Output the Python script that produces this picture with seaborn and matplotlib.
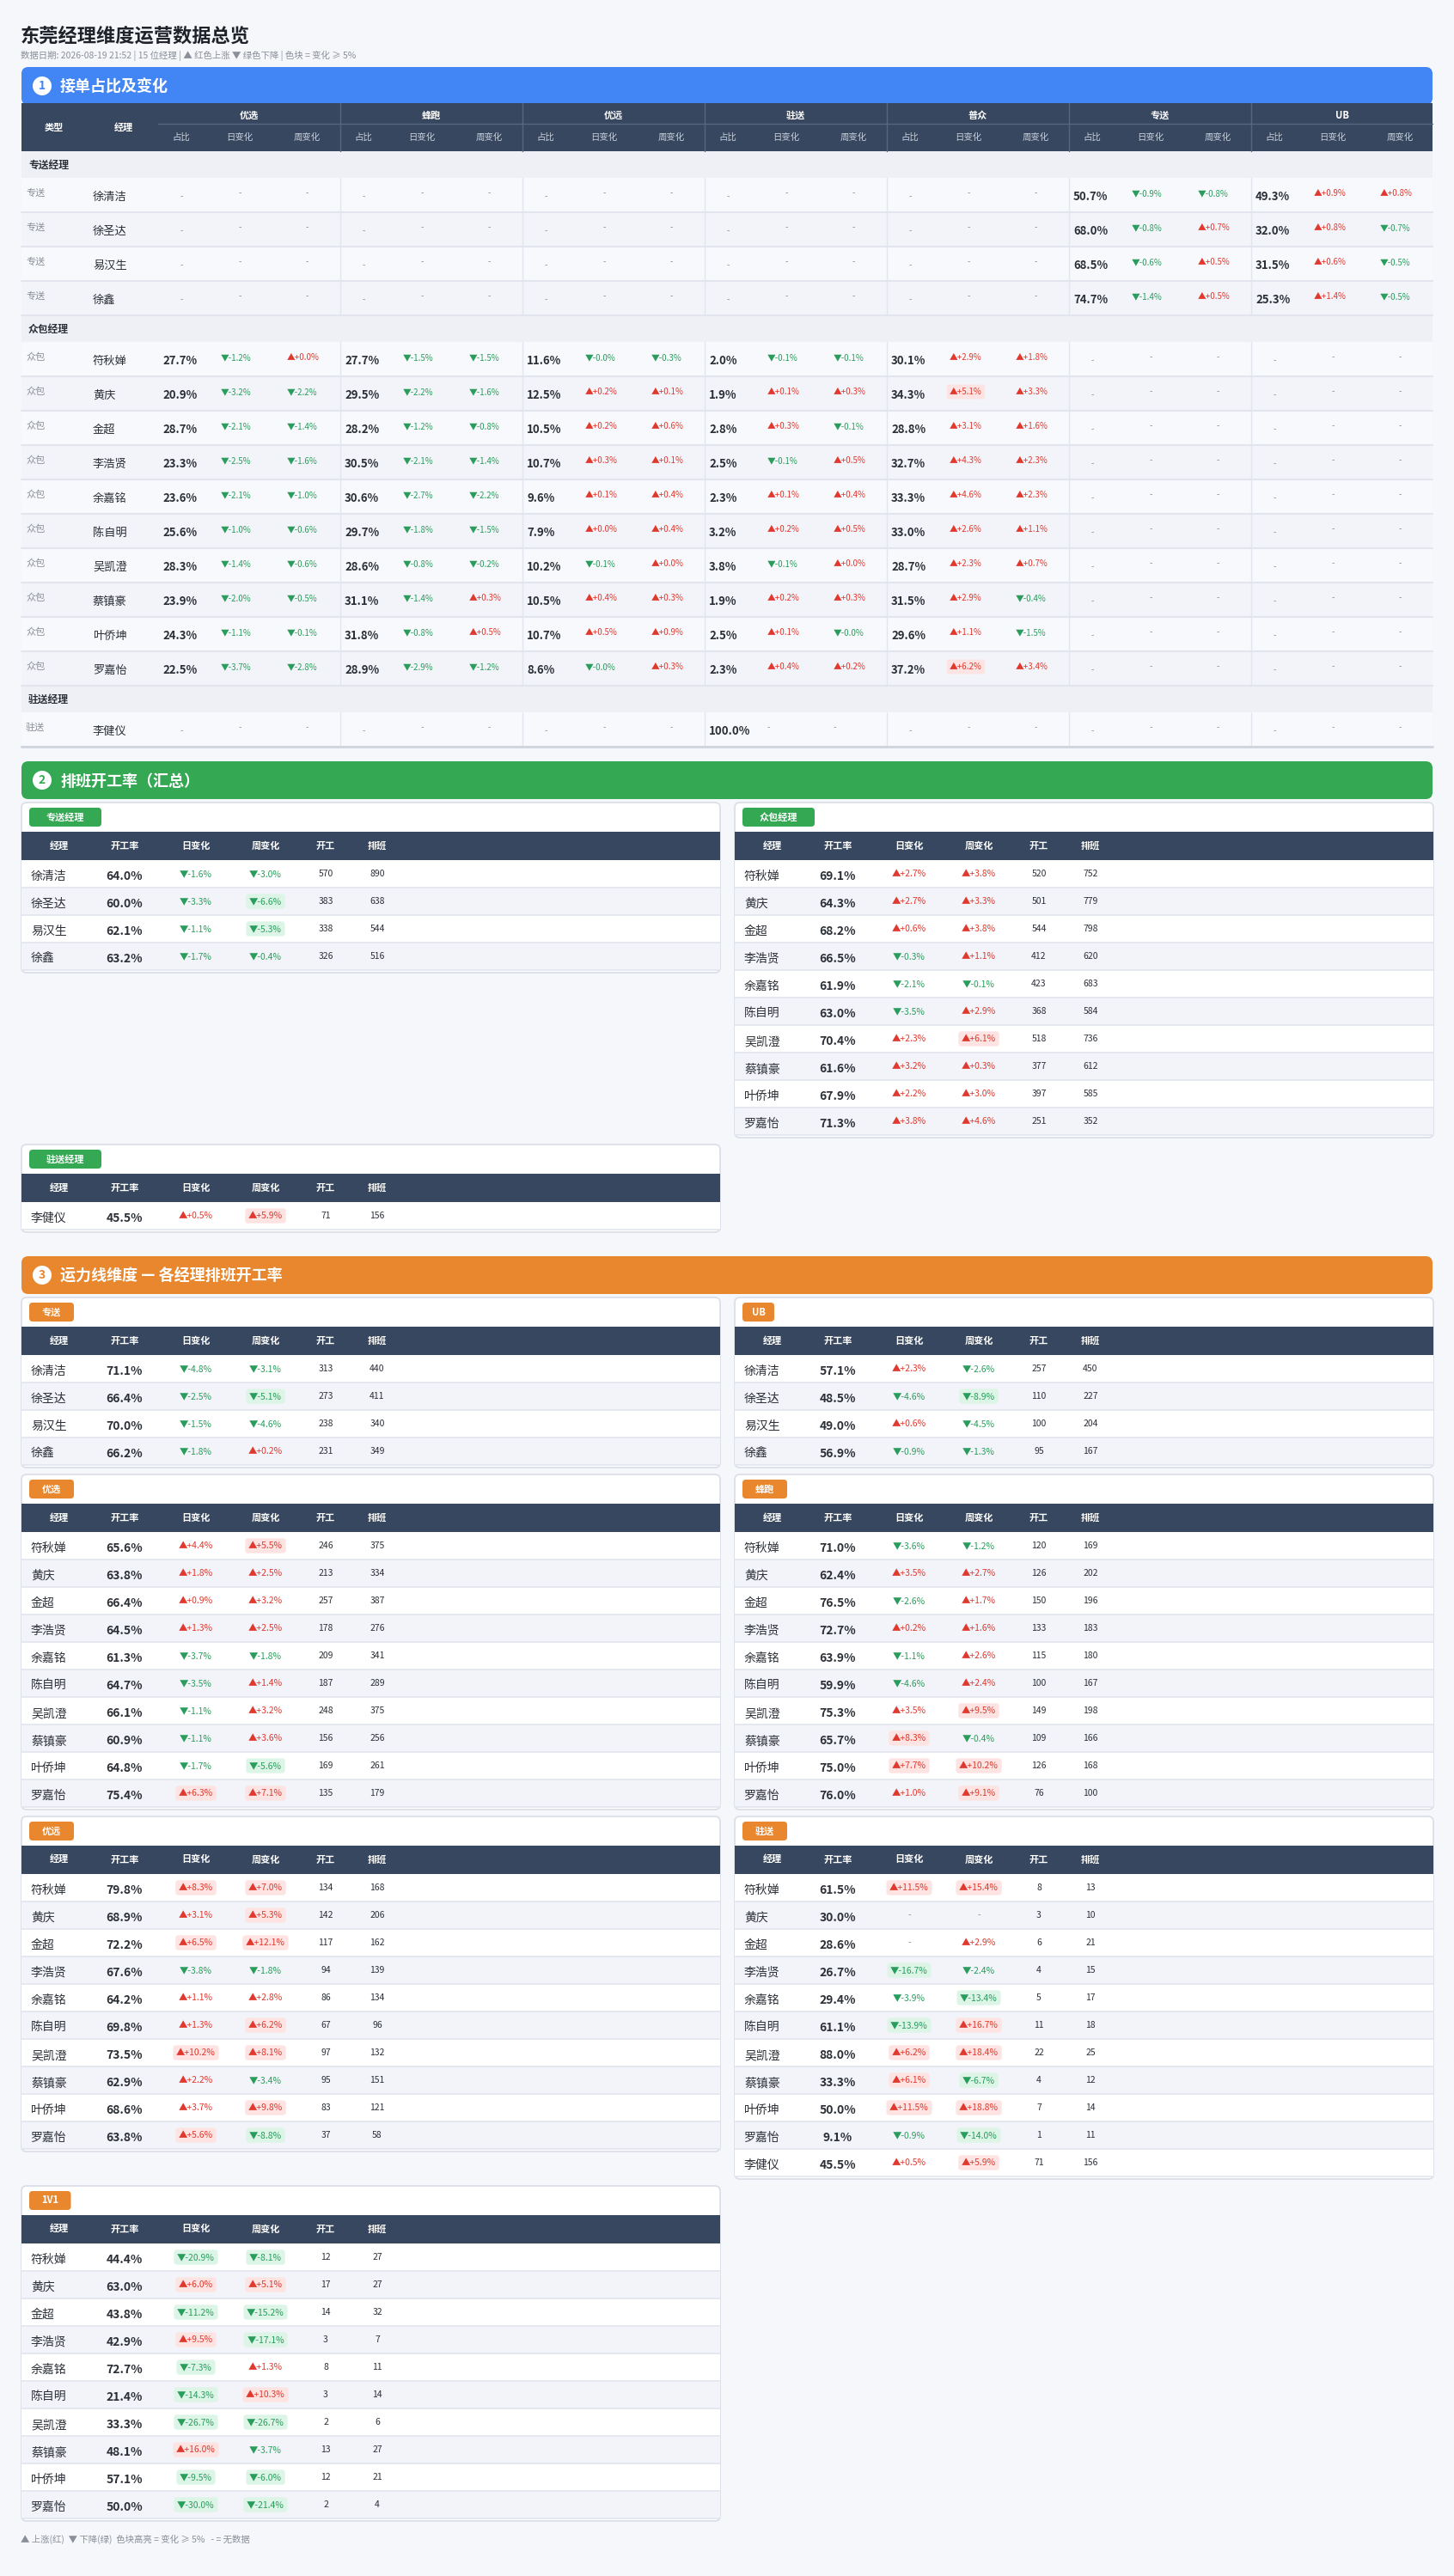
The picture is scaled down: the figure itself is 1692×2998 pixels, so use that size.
import pandas as pd
import matplotlib.pyplot as plt
import seaborn as sns
import numpy as np
from matplotlib.patches import FancyBboxPatch, Rectangle, Circle

sns.set_theme(style='white')
plt.rcParams['font.family'] = ['Noto Sans CJK SC', 'DejaVu Sans']

# ---- data ----
zs_names = ['徐清洁', '徐圣达', '易汉生', '徐鑫']
zb_names = ['符秋婵', '黄庆', '金超', '李浩贤', '余嘉铭', '陈自明', '吴凯澄', '蔡镇豪', '叶侨坤', '罗嘉怡']
zhu_names = ['李健仪']
lines = ['优选', '蜂跑', '优远', '驻送', '普众', '专送', 'UB']

# section 1: share / day change / week change per line (crowd managers)
yx_share = [27.7, 20.9, 28.7, 23.3, 23.6, 25.6, 28.3, 23.9, 24.3, 22.5]
yx_day = [-1.2, -3.2, -2.1, -2.5, -2.1, -1.0, -1.4, -2.0, -1.1, -3.7]
yx_week = [0.0, -2.2, -1.4, -1.6, -1.0, -0.6, -0.6, -0.5, -0.1, -2.8]
fp_share = [27.7, 29.5, 28.2, 30.5, 30.6, 29.7, 28.6, 31.1, 31.8, 28.9]
fp_day = [-1.5, -2.2, -1.2, -2.1, -2.7, -1.8, -0.8, -1.4, -0.8, -2.9]
fp_week = [-1.5, -1.6, -0.8, -1.4, -2.2, -1.5, -0.2, 0.3, 0.5, -1.2]
yy_share = [11.6, 12.5, 10.5, 10.7, 9.6, 7.9, 10.2, 10.5, 10.7, 8.6]
yy_day = [-0.0, 0.2, 0.2, 0.3, 0.1, 0.0, -0.1, 0.4, 0.5, -0.0]
yy_week = [-0.3, 0.1, 0.6, 0.1, 0.4, 0.4, 0.0, 0.3, 0.9, 0.3]
zhu_share = [2.0, 1.9, 2.8, 2.5, 2.3, 3.2, 3.8, 1.9, 2.5, 2.3]
zhu_day = [-0.1, 0.1, 0.3, -0.1, 0.1, 0.2, -0.1, 0.2, 0.1, 0.4]
zhu_week = [-0.1, 0.3, -0.1, 0.5, 0.4, 0.5, 0.0, 0.3, -0.0, 0.2]
pz_share = [30.1, 34.3, 28.8, 32.7, 33.3, 33.0, 28.7, 31.5, 29.6, 37.2]
pz_day = [2.9, 5.1, 3.1, 4.3, 4.6, 2.6, 2.3, 2.9, 1.1, 6.2]
pz_week = [1.8, 3.3, 1.6, 2.3, 2.3, 1.1, 0.7, -0.4, -1.5, 3.4]
# zhuansong managers
zs_zs_share = [50.7, 68.0, 68.5, 74.7]
zs_zs_day = [-0.9, -0.8, -0.6, -1.4]
zs_zs_week = [-0.8, 0.7, 0.5, 0.5]
zs_ub_share = [49.3, 32.0, 31.5, 25.3]
zs_ub_day = [0.9, 0.8, 0.6, 1.4]
zs_ub_week = [0.8, -0.7, -0.5, -0.5]
zhu_zhu_share = [100.0]

# section 2: rate, day, week, on-duty, scheduled
s2_zs = dict(rate=[64.0, 60.0, 62.1, 63.2], day=[-1.6, -3.3, -1.1, -1.7], week=[-3.0, -6.6, -5.3, -0.4],
             on=[570, 383, 338, 326], sch=[890, 638, 544, 516])
s2_zb = dict(rate=[69.1, 64.3, 68.2, 66.5, 61.9, 63.0, 70.4, 61.6, 67.9, 71.3],
             day=[2.7, 2.7, 0.6, -0.3, -2.1, -3.5, 2.3, 3.2, 2.2, 3.8],
             week=[3.8, 3.3, 3.8, 1.1, -0.1, 2.9, 6.1, 0.3, 3.0, 4.6],
             on=[520, 501, 544, 412, 423, 368, 518, 377, 397, 251],
             sch=[752, 779, 798, 620, 683, 584, 736, 612, 585, 352])
s2_zhu = dict(rate=[45.5], day=[0.5], week=[5.9], on=[71], sch=[156])

# section 3: per transport line
s3_zs = dict(rate=[71.1, 66.4, 70.0, 66.2], day=[-4.8, -2.5, -1.5, -1.8], week=[-3.1, -5.1, -4.6, 0.2],
             on=[313, 273, 238, 231], sch=[440, 411, 340, 349])
s3_ub = dict(rate=[57.1, 48.5, 49.0, 56.9], day=[2.3, -4.6, 0.6, -0.9], week=[-2.6, -8.9, -4.5, -1.3],
             on=[257, 110, 100, 95], sch=[450, 227, 204, 167])
s3_yx = dict(rate=[65.6, 63.8, 66.4, 64.5, 61.3, 64.7, 66.1, 60.9, 64.8, 75.4],
             day=[4.4, 1.8, 0.9, 1.3, -3.7, -3.5, -1.1, -1.1, -1.7, 6.3],
             week=[5.5, 2.5, 3.2, 2.5, -1.8, 1.4, 3.2, 3.6, -5.6, 7.1],
             on=[246, 213, 257, 178, 209, 187, 248, 156, 169, 135],
             sch=[375, 334, 387, 276, 341, 289, 375, 256, 261, 179])
s3_fp = dict(rate=[71.0, 62.4, 76.5, 72.7, 63.9, 59.9, 75.3, 65.7, 75.0, 76.0],
             day=[-3.6, 3.5, -2.6, 0.2, -1.1, -4.6, 3.5, 8.3, 7.7, 1.0],
             week=[-1.2, 2.7, 1.7, 1.6, 2.6, 2.4, 9.5, -0.4, 10.2, 9.1],
             on=[120, 126, 150, 133, 115, 100, 149, 109, 126, 76],
             sch=[169, 202, 196, 183, 180, 167, 198, 166, 168, 100])
s3_yy = dict(rate=[79.8, 68.9, 72.2, 67.6, 64.2, 69.8, 73.5, 62.9, 68.6, 63.8],
             day=[8.3, 3.1, 6.5, -3.8, 1.1, 1.3, 10.2, 2.2, 3.7, 5.6],
             week=[7.0, 5.3, 12.1, -1.8, 2.8, 6.2, 8.1, -3.4, 9.8, -8.8],
             on=[134, 142, 117, 94, 86, 67, 97, 95, 83, 37],
             sch=[168, 206, 162, 139, 134, 96, 132, 151, 121, 58])
s3_zhu = dict(rate=[61.5, 30.0, 28.6, 26.7, 29.4, 61.1, 88.0, 33.3, 50.0, 9.1, 45.5],
              day=[11.5, None, None, -16.7, -3.9, -13.9, 6.2, 6.1, 11.5, -0.9, 0.5],
              week=[15.4, None, 2.9, -2.4, -13.4, 16.7, 18.4, -6.7, 18.8, -14.0, 5.9],
              on=[8, 3, 6, 4, 5, 11, 22, 4, 7, 1, 71],
              sch=[13, 10, 21, 15, 17, 18, 25, 12, 14, 11, 156])
s3_1v1 = dict(rate=[44.4, 63.0, 43.8, 42.9, 72.7, 21.4, 33.3, 48.1, 57.1, 50.0],
              day=[-20.9, 6.0, -11.2, 9.5, -7.3, -14.3, -26.7, 16.0, -9.5, -30.0],
              week=[-8.1, 5.1, -15.2, -17.1, 1.3, 10.3, -26.7, -3.7, -6.0, -21.4],
              on=[12, 17, 14, 3, 8, 3, 2, 13, 12, 2],
              sch=[27, 27, 32, 7, 11, 14, 6, 27, 21, 4])

# ---- colours ----
BG = '#f6f7fb'
HEAD = '#37475f'
RED = '#e0392f'
GREEN = '#2a9d5c'
GREY = '#8a8f99'
INK = '#2b2f36'
BLUE, GRN, ORG = '#4285f4', '#34a853', '#e8872e'

fig = plt.figure(figsize=(16.92, 29.98), dpi=100, facecolor=BG)
ax = fig.add_axes([0, 0, 1, 1])
ax.set_xlim(0, 1692)
ax.set_ylim(2998, 0)
ax.axis('off')


def change(x, y, v, size=7.5, ha='center'):
    """arrow + signed change, highlighted when |v| >= 5"""
    if v is None:
        ax.text(x, y, '-', ha=ha, va='center', fontsize=size, color=GREY)
        return
    up = np.copysign(1, v) > 0
    col = RED if up else GREEN
    box = None
    if abs(v) >= 5:
        box = dict(boxstyle='round,pad=0.35', fc='#fde3e1' if up else '#dcf5e7', ec='none')
    ax.text(x, y, ('▲' if up else '▼') + '%+.1f%%' % v, ha=ha, va='center', fontsize=size,
            color=col, bbox=box)


def banner(y0, num, title, color):
    ax.add_patch(FancyBboxPatch((25, y0), 1642, 44, boxstyle='round,pad=0,rounding_size=8',
                                fc=color, ec='none'))
    ax.add_patch(Circle((49, y0 + 22), 11, fc='white', ec='none'))
    ax.text(49, y0 + 22, str(num), ha='center', va='center', fontsize=10, color=color, weight='bold')
    ax.text(70, y0 + 23, title, ha='left', va='center', fontsize=13, color='white', weight='bold')


def panel(x0, top, tag, color, names, d, w=813):
    n = len(names)
    bottom = top + 67 + 32 * n + 3
    ax.add_patch(FancyBboxPatch((x0, top), w, bottom - top, boxstyle='round,pad=0,rounding_size=6',
                                fc='white', ec='#d9dde8', lw=1.2))
    tw = 14 + 11.5 * len(tag) if tag.isascii() else 20 + 16 * len(tag)
    ax.add_patch(FancyBboxPatch((x0 + 9, top + 6), tw, 22, boxstyle='round,pad=0,rounding_size=4',
                                fc=color, ec='none'))
    ax.text(x0 + 9 + tw / 2, top + 17, tag, ha='center', va='center', fontsize=8, color='white', weight='bold')
    ax.add_patch(Rectangle((x0, top + 34), w, 33, fc=HEAD, ec='none'))
    cols = [44, 120, 203, 284, 354, 414]
    for cx, h in zip(cols, ['经理', '开工率', '日变化', '周变化', '开工', '排班']):
        ax.text(x0 + cx, top + 50, h, ha='center', va='center', fontsize=8, color='white', weight='bold')
    for i, nm in enumerate(names):
        ry = top + 67 + 32 * i
        ax.add_patch(Rectangle((x0, ry), w, 32, fc='white' if i % 2 == 0 else '#f3f4f9', ec='none'))
        ax.plot([x0, x0 + w], [ry + 32, ry + 32], color='#e2e5ee', lw=1.2)
        yc = ry + 18
        ax.text(x0 + 11, yc + 1, nm, ha='left', va='center', fontsize=10, color=INK)
        ax.text(x0 + 120, yc + 1, '%.1f%%' % d['rate'][i], ha='center', va='center', fontsize=10,
                color=INK, weight='bold')
        change(x0 + 203, yc - 2, d['day'][i])
        change(x0 + 284, yc - 2, d['week'][i])
        ax.text(x0 + 354, yc - 2, str(d['on'][i]), ha='center', va='center', fontsize=7.5, color=INK)
        ax.text(x0 + 414, yc - 2, str(d['sch'][i]), ha='center', va='center', fontsize=7.5, color=INK)


# ---- title ----
ax.text(24, 42, '东莞经理维度运营数据总览', ha='left', va='center', fontsize=16, weight='bold', color='#1f2329')
ax.text(24, 65, '数据日期: 2026-08-19 21:52 | 15 位经理 | ▲ 红色上涨 ▼ 绿色下降 | 色块 = 变化 ≥ 5%',
        ha='left', va='center', fontsize=7.5, color=GREY)

# ---- section 1 ----
banner(78, 1, '接单占比及变化', BLUE)
ax.add_patch(Rectangle((25, 120), 1642, 56, fc=HEAD, ec='none'))
ax.text(63, 148, '类型', ha='center', va='center', fontsize=8, color='white', weight='bold')
ax.text(144, 148, '经理', ha='center', va='center', fontsize=8, color='white', weight='bold')
gx = [184 + 212 * k for k in range(7)]
ax.plot([184, 1667], [144, 144], color='#56667e', lw=1)
for g, x in zip(lines, gx):
    ax.text(x + 106, 134, g, ha='center', va='center', fontsize=8, color='white', weight='bold')
    for off, h in zip([27, 95, 173], ['占比', '日变化', '周变化']):
        ax.text(x + off, 160, h, ha='center', va='center', fontsize=7.5, color='#c9d0db')
    if x > 184:
        ax.plot([x, x], [120, 176], color='#56667e', lw=1)

share_by_line = {
    '优选': (yx_share, yx_day, yx_week), '蜂跑': (fp_share, fp_day, fp_week),
    '优远': (yy_share, yy_day, yy_week), '驻送': (zhu_share, zhu_day, zhu_week),
    '普众': (pz_share, pz_day, pz_week),
}
blocks = [('专送经理', '专送', zs_names, {'专送': (zs_zs_share, zs_zs_day, zs_zs_week),
                                        'UB': (zs_ub_share, zs_ub_day, zs_ub_week)}),
          ('众包经理', '众包', zb_names, share_by_line),
          ('驻送经理', '驻送', zhu_names, {'驻送': (zhu_zhu_share, [None], [None])})]
y = 176
for band, kind, names, vals in blocks:
    ax.add_patch(Rectangle((25, y), 1642, 31, fc='#eef0f5', ec='none'))
    ax.text(33, y + 16, band, ha='left', va='center', fontsize=8.5, color=INK, weight='bold')
    y += 31
    for i, nm in enumerate(names):
        ax.add_patch(Rectangle((25, y), 1642, 40, fc='#f8f9fc' if i % 2 == 0 else '#f3f4f9', ec='none'))
        ax.plot([25, 1667], [y + 40, y + 40], color='#e2e5ee', lw=1.5)
        for x in gx[1:]:
            ax.plot([x, x], [y, y + 40], color='#e2e5ee', lw=1)
        ax.text(30, y + 18, kind, ha='left', va='center', fontsize=8, color=GREY)
        ax.text(108, y + 22, nm, ha='left', va='center', fontsize=9.5, color=INK)
        for g, x in zip(lines, gx):
            if g in vals:
                s, dd, ww = vals[g]
                ax.text(x + 5, y + 22, '%.1f%%' % s[i], ha='left', va='center', fontsize=9.5,
                        color=INK, weight='bold')
                change(x + 73, y + 18, dd[i], size=7, ha='left')
                change(x + 150, y + 18, ww[i], size=7, ha='left')
            else:
                ax.text(x + 27, y + 22, '-', ha='center', va='center', fontsize=7, color=GREY)
                ax.text(x + 95, y + 18, '-', ha='center', va='center', fontsize=7, color=GREY)
                ax.text(x + 173, y + 18, '-', ha='center', va='center', fontsize=7, color=GREY)
        y += 40
ax.plot([25, 1667], [y, y], color='#cfd4df', lw=2)

# ---- section 2 ----
banner(886, 2, '排班开工率（汇总）', GRN)
panel(25, 934, '专送经理', GRN, zs_names, s2_zs)
panel(855, 934, '众包经理', GRN, zb_names, s2_zb)
panel(25, 1332, '驻送经理', GRN, zhu_names, s2_zhu)

# ---- section 3 ----
banner(1462, 3, '运力线维度 — 各经理排班开工率', ORG)
panel(25, 1510, '专送', ORG, zs_names, s3_zs)
panel(855, 1510, 'UB', ORG, zs_names, s3_ub)
panel(25, 1716, '优选', ORG, zb_names, s3_yx)
panel(855, 1716, '蜂跑', ORG, zb_names, s3_fp)
panel(25, 2114, '优远', ORG, zb_names, s3_yy)
panel(855, 2114, '驻送', ORG, zb_names + zhu_names, s3_zhu)
panel(25, 2544, '1V1', ORG, zb_names, s3_1v1)

ax.text(24, 2955, '▲ 上涨(红)  ▼ 下降(绿)  色块高亮 = 变化 ≥ 5%   - = 无数据', ha='left', va='center',
        fontsize=7.5, color=GREY)

fig.savefig('out.png', dpi=100, facecolor=BG)
